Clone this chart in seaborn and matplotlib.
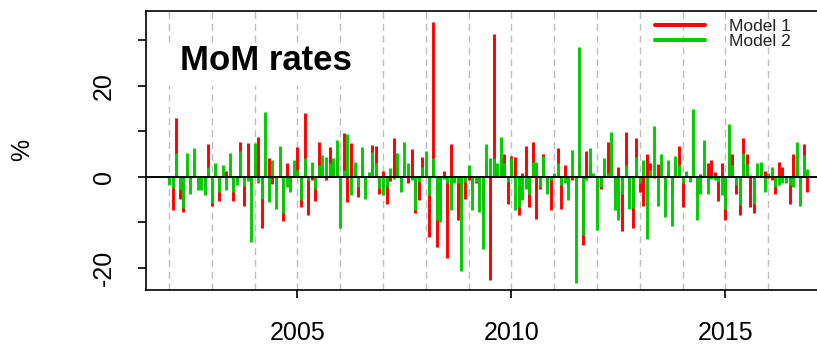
import numpy as np
import pandas as pd
import matplotlib
matplotlib.use("Agg")
import matplotlib.pyplot as plt
from matplotlib.lines import Line2D
from matplotlib.patches import Rectangle
import seaborn as sns

# Monthly MoM rates (%), Jan 2002 - Dec 2016
start_year = 2002
model1 = [
    -0.8, -7.3, 12.8, -4.9, -7.8, 2.0, -1.5, 3.0, -1.0, -1.5, -2.0, 7.2,
    -6.4, 1.0, -5.3, 1.5, 1.3, 2.0, -5.3, -0.8, 7.7, -6.4, 7.3, -2.0,
    3.0, 8.8, -11.2, 3.0, 4.0, -1.6, -3.0, 3.0, -9.7, 2.9, -1.5, 1.5,
    6.6, -6.7, 13.9, -8.4, -0.7, -5.3, 7.7, 2.0, -0.7, 6.6, 2.0, 4.0,
    -5.0, 9.7, -5.6, 7.5, 1.0, -4.4, 3.0, -2.0, 0.5, 7.0, 6.8, -3.7,
    1.3, -6.0, -1.0, 8.4, 2.0, -1.0, 3.0, -1.3, 6.0, -8.0, -5.1, 4.4,
    2.0, -13.2, 34.0, -15.5, -5.0, 1.3, -17.9, 7.2, -1.0, -9.5, -8.0, -4.8,
    -0.7, -3.0, -1.3, -3.0, -6.0, 3.0, -22.7, 31.4, 1.0, 4.0, 5.0, -5.9,
    4.5, 4.4, -8.4, 0.7, 6.8, -6.6, 7.7, -9.2, -2.6, 5.0, -1.5, -7.3,
    0.6, 6.4, -7.0, 2.6, -2.0, -0.7, -5.0, 3.0, -15.1, 5.7, 2.9, 0.5,
    -5.0, -2.6, 1.0, 7.7, 4.0, -3.0, 2.2, -11.9, 9.9, -3.0, -11.2, 8.4,
    -3.3, -6.4, 5.0, 3.0, -0.4, 2.8, 2.0, -3.0, 1.5, -4.0, 2.0, 6.8,
    -6.7, 0.5, -0.3, 5.0, -4.0, 0.6, 3.0, 2.9, 3.7, 1.0, -5.3, 2.9,
    -9.5, 5.0, 5.0, -3.7, -8.4, 8.4, 5.0, -6.6, -8.0, 1.0, 1.0, 1.3,
    -0.4, -0.7, -3.7, 3.3, 2.2, -0.5, -6.0, 5.0, 2.0, -2.0, 7.2, -3.3,
]
model2 = [
    -1.8, -2.5, 5.3, -3.0, -6.8, 5.3, -3.7, 6.4, -2.9, -3.0, -4.0, 2.2,
    -5.8, 2.9, -3.3, 2.6, -2.9, 5.3, -3.3, -1.8, 5.7, -2.0, -1.0, -14.3,
    7.3, -1.5, -5.0, 14.3, -5.5, 3.7, -7.0, 6.8, -8.0, -2.2, -3.3, 3.7,
    1.5, -5.1, 4.0, -0.7, 3.3, -2.6, 2.6, 4.8, 4.4, 2.9, 4.0, 8.0,
    -11.2, 1.5, 9.4, -4.0, 3.3, -2.2, 6.6, -4.9, 1.0, 5.5, 2.9, -2.5,
    -4.0, -2.2, 2.0, -0.5, 5.3, -3.3, 7.7, 2.9, -0.7, -7.3, -1.1, 2.2,
    5.7, -4.0, 4.0, -9.5, -9.9, -0.5, -1.5, -7.3, -1.5, -1.5, -20.7, -1.1,
    2.6, -7.3, -1.1, -7.7, -15.9, 7.2, 4.0, 4.0, 2.9, 8.8, 2.9, -1.1,
    4.0, -7.3, -6.6, -5.1, -2.6, -3.7, 3.3, 3.3, -2.2, 4.5, -3.7, -0.7,
    0.7, 2.9, -1.8, -1.5, -5.1, 5.9, -23.4, 28.6, -12.8, -0.7, 6.4, 0.7,
    -11.7, -2.2, 4.0, 0.9, 9.9, -7.3, -9.5, -3.7, 2.6, -7.2, -6.9, 4.4,
    -1.5, 3.7, -13.6, 1.5, 11.2, -6.4, 5.0, -8.8, 3.7, -10.8, 4.5, 2.6,
    -1.5, 1.3, -1.1, 14.8, -9.5, -3.7, 8.1, -3.7, -0.6, -0.8, -1.1, -4.0,
    -7.0, 11.6, 2.6, -1.8, -6.2, 5.1, 2.8, 0.3, -5.9, 2.9, 3.3, -3.3,
    0.7, 2.2, -2.2, -1.8, -1.5, -1.5, -1.8, -2.2, 7.7, -6.4, 4.8, 1.6,
]
series_names = ["Model 1", "Model 2"]
series_colors = ["#FF0000", "#00CD00"]
grid_years = list(range(2002, 2017))
xtick_vals = [2005, 2010, 2015]
ytick_vals = [-20, -10, 0, 10, 20, 30]
ytick_labels = ["-20", "", "0", "", "20", ""]
title_text = "MoM rates"
ylabel_text = "%"

t = start_year + np.arange(len(model1)) / 12.0
df = pd.DataFrame({"t": t, "Model 1": model1, "Model 2": model2})

sns.set_theme(style="white")
plt.rcParams["font.family"] = ["Liberation Sans", "DejaVu Sans"]

W, H = 817, 354
fig = plt.figure(figsize=(W / 100, H / 100), dpi=100)
ax_l, ax_r, ax_t, ax_b = 146.4, 817, 11, 290
ax = fig.add_axes([ax_l / W, (H - ax_b) / H, (ax_r - ax_l) / W, (ax_b - ax_t) / H])
ax.set_facecolor("white")

px_per_year = 42.79
x0 = 2001.47
ax.set_xlim(x0, x0 + (ax_r - ax_l) / px_per_year)
ax.set_ylim(-24.9, 36.4)

# year grid
for gy in grid_years:
    ax.axvline(gy, color="#BEBEBE", lw=1.0, dashes=(5, 3.5), zorder=1)

# title box (white background)
ax.add_patch(Rectangle(((150 - ax_l) / (ax_r - ax_l), (ax_b - 86) / (ax_b - ax_t)),
                       (365 - 150) / (ax_r - ax_l), 43 / (ax_b - ax_t),
                       transform=ax.transAxes, facecolor="white", edgecolor="none", zorder=2))
ax.text((266 - ax_l) / (ax_r - ax_l), (ax_b - 60) / (ax_b - ax_t), title_text,
        transform=ax.transAxes, ha="center", va="center", fontsize=25,
        fontweight="bold", color="black", zorder=3)

bar_lw = 2.1
for name, col in zip(series_names, series_colors):
    ax.vlines(df["t"], 0, df[name], colors=col, lw=bar_lw, zorder=4, capstyle="butt")

ax.axhline(0, color="black", lw=1.4, zorder=5)

# axes styling
for side in ["left", "bottom", "top"]:
    ax.spines[side].set_visible(True)
    ax.spines[side].set_color("black")
    ax.spines[side].set_linewidth(1.2)
ax.spines["right"].set_visible(False)

ax.set_xticks(xtick_vals)
ax.set_xticklabels([str(v) for v in xtick_vals])
ax.set_yticks(ytick_vals)
ax.set_yticklabels(ytick_labels, rotation=90, va="center")
ax.tick_params(axis="both", which="both", direction="out", length=6, width=1.2,
               color="black", labelsize=18, labelcolor="black", pad=16,
               bottom=True, left=True, top=False, right=False)

fig.text(22 / W, 1 - 150 / H, ylabel_text, rotation=90, ha="center", va="center",
         fontsize=18, color="black")

handles = [Line2D([0], [0], color=c, lw=2.9) for c in series_colors]
leg = ax.legend(handles, series_names, loc="upper left",
                bbox_to_anchor=((655 - ax_l) / (ax_r - ax_l), (ax_b - 19) / (ax_b - ax_t)),
                bbox_transform=ax.transAxes, frameon=False, fontsize=12.5,
                handlelength=2.9, handletextpad=1.35, labelspacing=0.0,
                borderpad=0, borderaxespad=0)
for txt in leg.get_texts():
    txt.set_color("#222222")

fig.savefig("out.png", dpi=100)
